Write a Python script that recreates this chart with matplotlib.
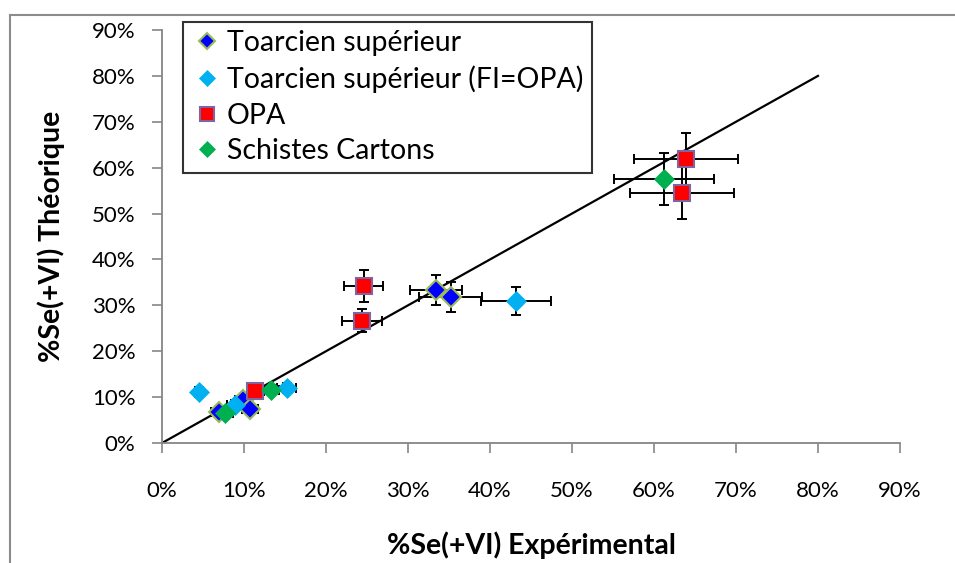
import matplotlib
matplotlib.use("Agg")
import matplotlib.pyplot as plt
from matplotlib.ticker import PercentFormatter, MultipleLocator
from matplotlib.lines import Line2D

plt.rcParams['font.family'] = ['Lato', 'DejaVu Sans']

# Toarcien supérieur
ts_x = [0.070, 0.099, 0.107, 0.334, 0.352]
ts_y = [0.067, 0.094, 0.074, 0.333, 0.318]
ts_xerr = [0.010, 0.010, 0.010, 0.032, 0.038]
ts_yerr = [0.010, 0.010, 0.010, 0.033, 0.033]

# Toarcien supérieur (FI=OPA)
tf_x = [0.045, 0.089, 0.152, 0.432]
tf_y = [0.111, 0.083, 0.120, 0.309]
tf_xerr = [0.005, 0.010, 0.012, 0.043]
tf_yerr = [0.010, 0.010, 0.010, 0.030]

# OPA
opa_x = [0.114, 0.246, 0.244, 0.639, 0.634]
opa_y = [0.113, 0.342, 0.266, 0.619, 0.545]
opa_xerr = [0.010, 0.024, 0.024, 0.063, 0.063]
opa_yerr = [0.010, 0.034, 0.025, 0.057, 0.056]

# Schistes Cartons
sc_x = [0.077, 0.133, 0.612]
sc_y = [0.065, 0.116, 0.575]
sc_xerr = [0.010, 0.010, 0.061]
sc_yerr = [0.010, 0.010, 0.057]

# 1:1 reference line
ref_x = [0.0, 0.8]
ref_y = [0.0, 0.8]

fig = plt.figure(figsize=(9.55, 5.63), dpi=100)
ax = fig.add_axes([0.1696, 0.2131, 0.7728, 0.7336])

ax.plot(ref_x, ref_y, color='black', lw=1.6, zorder=1)

series = [
    (ts_x, ts_y, ts_xerr, ts_yerr, 'Toarcien supérieur', 'D', '#0000FF', '#9BBB59', 10.5, 1.5),
    (tf_x, tf_y, tf_xerr, tf_yerr, 'Toarcien supérieur (FI=OPA)', 'D', '#00B0F0', '#00B0F0', 10.5, 0.5),
    (opa_x, opa_y, opa_xerr, opa_yerr, 'OPA', 's', '#FF0000', '#8064A2', 12, 1.5),
    (sc_x, sc_y, sc_xerr, sc_yerr, 'Schistes Cartons', 'D', '#00B050', '#00B050', 10.5, 0.5),
]

handles = []
for x, y, xe, ye, name, mk, fc, ec, ms, mew in series:
    ax.errorbar(x, y, xerr=xe, yerr=ye, fmt='none', ecolor='black',
                elinewidth=1.4, capsize=3.5, capthick=1.4, zorder=2)
    ax.plot(x, y, linestyle='none', marker=mk, markersize=ms,
            markerfacecolor=fc, markeredgecolor=ec, markeredgewidth=mew, zorder=3)
    handles.append(Line2D([], [], linestyle='none', marker=mk, markersize=ms * 0.8,
                          markerfacecolor=fc, markeredgecolor=ec, markeredgewidth=mew,
                          label=name))

ax.set_xlim(0, 0.9)
ax.set_ylim(0, 0.9)
ax.xaxis.set_major_locator(MultipleLocator(0.1))
ax.yaxis.set_major_locator(MultipleLocator(0.1))
ax.xaxis.set_major_formatter(PercentFormatter(1.0, decimals=0))
ax.yaxis.set_major_formatter(PercentFormatter(1.0, decimals=0))

for side in ('top', 'right'):
    ax.spines[side].set_visible(False)
for side in ('left', 'bottom'):
    ax.spines[side].set_color('#868686')
    ax.spines[side].set_linewidth(1.3)

ax.tick_params(axis='both', direction='out', length=7, width=1.2, color='#868686',
               labelsize=16, labelcolor='black')
ax.tick_params(axis='x', pad=20)
ax.tick_params(axis='y', pad=12)

ax.set_xlabel('%Se(+VI) Expérimental', fontsize=20.5, fontweight='bold', labelpad=22)
ax.set_ylabel('%Se(+VI) Théorique', fontsize=20.5, fontweight='bold', labelpad=19)

leg = ax.legend(handles=handles, loc='upper left', bbox_to_anchor=(0.028, 1.02),
                fontsize=20.5, frameon=True, fancybox=False, borderpad=0.3,
                handletextpad=0.15, handlelength=1.1, labelspacing=0.33,
                borderaxespad=0)
leg.get_frame().set_edgecolor('black')
leg.get_frame().set_linewidth(1.5)

# chart area outline
fig.add_artist(Line2D([10 / 955, 1.0], [1 - 15 / 563, 1 - 15 / 563],
                      transform=fig.transFigure, color='#8C8C8C', lw=1.5))
fig.add_artist(Line2D([10 / 955, 10 / 955], [0.0, 1 - 15 / 563],
                      transform=fig.transFigure, color='#8C8C8C', lw=1.5))

fig.savefig('out.png', dpi=100)
